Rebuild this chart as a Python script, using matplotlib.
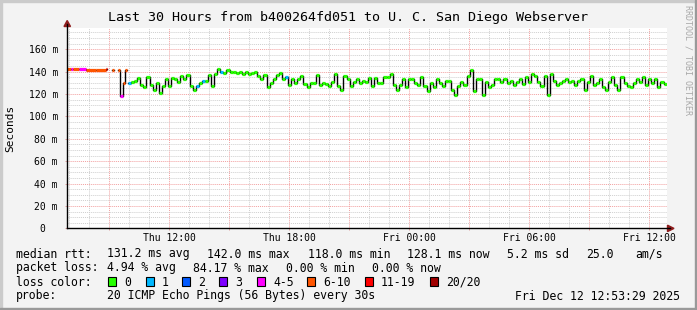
import matplotlib
matplotlib.use('Agg')
import matplotlib.pyplot as plt
import matplotlib.dates as mdates
from matplotlib.patches import Rectangle, Polygon
from matplotlib.lines import Line2D
from matplotlib.ticker import MultipleLocator, FuncFormatter
from datetime import datetime, timedelta

plt.rcParams['font.family'] = 'DejaVu Sans Mono'

W, H = 697, 310

start = datetime(2025, 12, 11, 6, 53, 29)
end = datetime(2025, 12, 12, 12, 53, 29)

# first hours, lossy and patchy: offsets in hours from start
early_from = [0.0, 0.2, 0.3, 0.6, 0.95, 1.45, 1.95, 2.25, 2.55, 2.65, 2.8, 2.9]
early_to = [0.2, 0.3, 0.6, 0.95, 1.45, 1.95, 2.0, 2.35, 2.65, 2.8, 2.9, 3.0]
early_rtt = [142, 142, 142, 142, 141.5, 141, 142, 141, 141, 118, 130, 141]
early_loss = ['6-10', '4-5', '6-10', '4-5', '6-10', '6-10', '11-19',
              '6-10', '6-10', '4-5', '6-10', '6-10']

# rest of the period, one median every step
main_from_h = 3.05
main_step_s = 554
main_rtt = [130, 131, 132, 134, 128, 126, 135, 128, 124, 130,
            121, 127, 133, 127, 134, 133, 131, 136, 133, 137,
            127, 124, 127, 130, 132, 132, 137, 127, 138, 142,
            140, 139, 141, 140, 140, 139, 140, 138, 140, 138,
            139, 140, 136, 133, 137, 126, 130, 133, 137, 139,
            133, 135, 128, 133, 130, 133, 136, 129, 126, 130,
            130, 137, 128, 130, 129, 127, 131, 138, 127, 124,
            136,
            133, 127, 131, 133, 130, 132, 131, 134, 127, 134,
            130, 130, 135, 135, 138, 128, 124, 128, 133, 126,
            133, 133, 130, 128, 135, 127, 123, 130, 126, 133,
            130, 127, 132, 132, 124, 119, 127, 131, 128, 136,
            141, 123, 133, 133, 119, 131, 126, 128, 133, 133,
            131, 133, 130, 132, 128, 131, 133, 129, 135, 131,
            138, 136, 131, 127, 136, 119, 138, 132, 128, 130,
            132, 133, 131, 132, 128, 132, 133, 124, 131, 136,
            128, 130, 133, 126, 124, 131, 135, 128, 124, 135,
            130, 127, 126, 130, 133, 131, 135, 128, 133, 130,
            133, 126, 131, 129]
main_loss1_idx = [0, 22, 24, 30, 51]

loss_names = ['0', '1', '2', '3', '4-5', '6-10', '11-19', '20/20']
loss_colors = ['#26ff00', '#00b8ff', '#0059ff', '#7e00ff',
               '#ff00ff', '#ff5500', '#ff0000', '#a10000']
color_of = dict(zip(loss_names, loss_colors))

stats1 = [(16, 'median rtt:'), (107, '131.2 ms avg'), (207, '142.0 ms max'),
          (308, '118.0 ms min'), (407, '128.1 ms now'), (507, '5.2 ms sd'),
          (586, '25.0'), (635, 'am/s')]
stats2 = [(16, 'packet loss:'), (107, '4.94 % avg'), (193, '84.17 % max'),
          (286, '0.00 % min'), (372, '0.00 % now')]
legend_box_x = [108, 146, 182, 219, 257, 307, 365, 430]

# ---- build segments ----
seg_from, seg_to, seg_val, seg_col = [], [], [], []
for a, b, v, l in zip(early_from, early_to, early_rtt, early_loss):
    seg_from.append(start + timedelta(hours=a))
    seg_to.append(start + timedelta(hours=b))
    seg_val.append(v)
    seg_col.append(color_of[l])
t0 = start + timedelta(hours=main_from_h)
for i, v in enumerate(main_rtt):
    a = t0 + timedelta(seconds=main_step_s * i)
    seg_from.append(a)
    seg_to.append(a + timedelta(seconds=main_step_s))
    seg_val.append(v)
    seg_col.append(color_of['1'] if i in main_loss1_idx else color_of['0'])

fig = plt.figure(figsize=(W / 100, H / 100), dpi=100, facecolor='#f3f3f3')


def fx(x):
    return x / W


def fy(y):
    return 1 - y / H


y0px, ytop = 228.4, 178.5
ytoppx = y0px - ytop * 1.12
ax = fig.add_axes([fx(67), fy(y0px), fx(667) - fx(67), fy(ytoppx) - fy(y0px)])
ax.set_facecolor('white')

# black step line through each contiguous run
runs = [[0]]
for i in range(1, len(seg_val)):
    if seg_from[i] == seg_to[i - 1]:
        runs[-1].append(i)
    else:
        runs.append([i])
for r in runs:
    xs = [seg_from[i] for i in r] + [seg_to[r[-1]]]
    ys = [seg_val[i] for i in r] + [seg_val[r[-1]]]
    ax.plot(xs, ys, drawstyle='steps-post', color='#000000', lw=1.0, zorder=3)

ax.hlines(seg_val, mdates.date2num(seg_from), mdates.date2num(seg_to),
          colors=seg_col, lw=2.3, zorder=4)

ax.set_xlim(start, end)
ax.set_ylim(0, ytop)

ax.xaxis.set_major_locator(mdates.HourLocator(byhour=range(0, 24, 3)))
ax.xaxis.set_minor_locator(mdates.HourLocator())
ax.xaxis.set_major_formatter(FuncFormatter(
    lambda x, pos: mdates.num2date(x).strftime('%a %H:%M')
    if mdates.num2date(x).hour % 6 == 0 else ''))
ax.yaxis.set_major_locator(MultipleLocator(20))
ax.yaxis.set_minor_locator(MultipleLocator(5))
ax.yaxis.set_major_formatter(FuncFormatter(
    lambda v, pos: '0  ' if v == 0 else '%d m' % v))

ax.grid(which='minor', color='#cfcfcf', ls=(0, (1, 1)), lw=0.7)
ax.grid(which='major', color='#f2a0a0', ls=(0, (1, 1)), lw=0.7)
ax.set_axisbelow(True)

ax.tick_params(which='both', labelsize=7, color='#e0a0a0', length=1.5, width=0.7)
ax.tick_params(which='minor', length=0)
ax.tick_params(axis='y', pad=5)
ax.tick_params(axis='x', pad=2)
for s in ax.spines.values():
    s.set_visible(False)

# axes with arrows
fig.add_artist(Line2D([fx(67), fx(67)], [fy(y0px), fy(24)], color='black', lw=1.0))
fig.add_artist(Line2D([fx(67), fx(670)], [fy(y0px), fy(y0px)], color='black', lw=1.0))
arrow_c = '#8f1d1d'
fig.add_artist(Polygon([(fx(64), fy(26.5)), (fx(70.5), fy(26.5)), (fx(67.2), fy(20.5))],
                       closed=True, color=arrow_c, transform=fig.transFigure))
fig.add_artist(Polygon([(fx(667.5), fy(225.2)), (fx(667.5), fy(231.6)), (fx(674), fy(228.4))],
                       closed=True, color=arrow_c, transform=fig.transFigure))

# texts
fig.text(0.5, fy(18), 'Last 30 Hours from b400264fd051 to U. C. San Diego Webserver',
         ha='center', va='center', fontsize=9.6)
fig.text(fx(10), fy(128), 'Seconds', rotation=90, ha='center', va='center', fontsize=8)
fig.text(fx(688), fy(60), 'RRDTOOL / TOBI OETIKER', rotation=270, ha='center',
         va='center', fontsize=6, color='#a8a8a8')

fs = 8.3
for x, s in stats1:
    fig.text(fx(x), fy(254), s, ha='left', va='center', fontsize=fs)
for x, s in stats2:
    fig.text(fx(x), fy(268), s, ha='left', va='center', fontsize=fs)
fig.text(fx(16), fy(282), 'loss color:', ha='left', va='center', fontsize=fs)
for bx, name, c in zip(legend_box_x, loss_names, loss_colors):
    fig.add_artist(Rectangle((fx(bx), fy(286)), fx(8), 9 / H, facecolor=c,
                             edgecolor='black', lw=0.8, transform=fig.transFigure))
    fig.text(fx(bx + 16), fy(282), name, ha='left', va='center', fontsize=fs)
fig.text(fx(16), fy(296), 'probe:', ha='left', va='center', fontsize=fs)
fig.text(fx(107), fy(296), '20 ICMP Echo Pings (56 Bytes) every 30s',
         ha='left', va='center', fontsize=fs)
fig.text(fx(680), fy(296), 'Fri Dec 12 12:53:29 2025', ha='right', va='center', fontsize=fs)

# frame
fig.add_artist(Rectangle((0, 0), fx(2), 1, color='#cbcbcb', transform=fig.transFigure))
fig.add_artist(Rectangle((0, 1 - 2 / H), 1, 2 / H, color='#cbcbcb', transform=fig.transFigure))
fig.add_artist(Rectangle((1 - 2 / W, 0), 2 / W, 1, color='#999999', transform=fig.transFigure))
fig.add_artist(Rectangle((0, 0), 1, 2 / H, color='#999999', transform=fig.transFigure))

fig.savefig('out.png', dpi=100, facecolor=fig.get_facecolor())
